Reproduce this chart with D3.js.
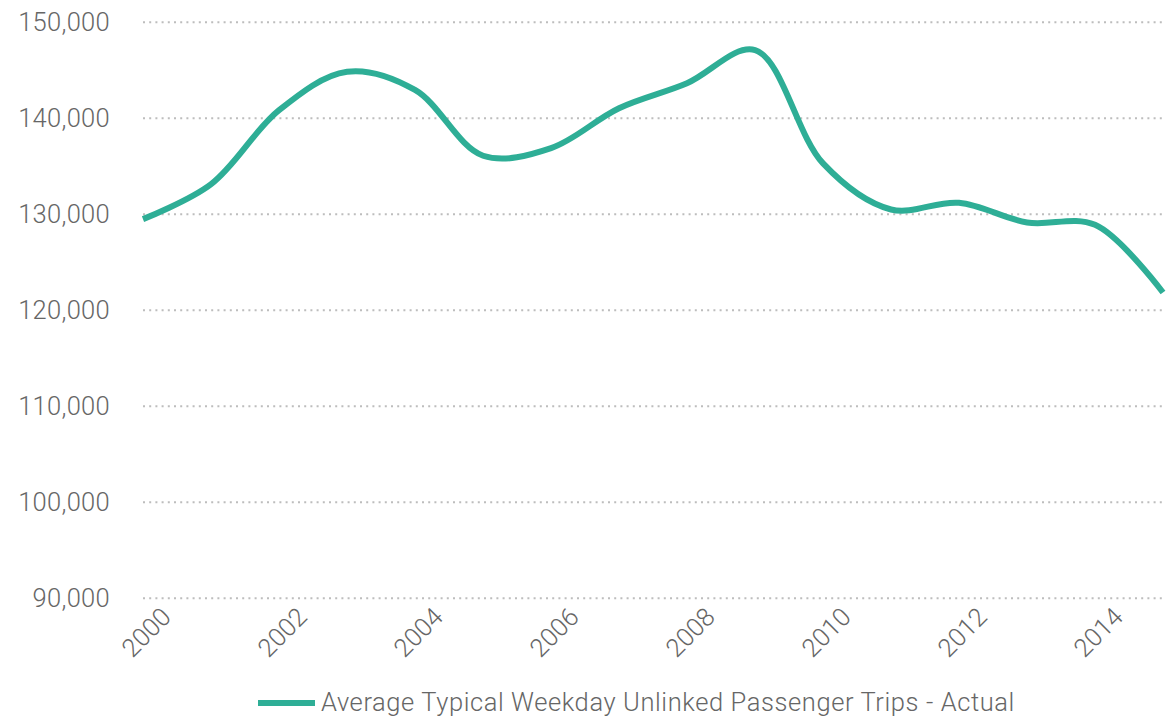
<!DOCTYPE html>
<html>
<head>
<meta charset="utf-8">
<script src="https://cdn.jsdelivr.net/npm/d3@7"></script>
<style>
  html, body { margin: 0; padding: 0; background: #ffffff; }
  svg { display: block; }
  text { font-family: "Helvetica Neue", Roboto, "Liberation Sans", sans-serif; font-weight: 300; fill: #666666; }
</style>
</head>
<body>
<svg id="chart" width="1166" height="720"></svg>
<script>
// Reporting periods (fiscal-year end months) and their ridership values
const periods = ["1999-09", "2000-09", "2001-09", "2002-09", "2003-09", "2004-09", "2005-09", "2006-09",
                 "2007-09", "2008-09", "2009-09", "2010-09", "2011-09", "2012-09", "2013-09", "2014-09"];
const weekdayTrips = [129500, 133150, 140850, 144850, 142950, 136100, 136900, 141050,
                      143650, 147100, 135300, 130500, 131200, 129150, 128900, 121850];
const yTicks = [90000, 100000, 110000, 120000, 130000, 140000, 150000];
const xTickYears = [2000, 2002, 2004, 2006, 2008, 2010, 2012, 2014];
const seriesName = "Average Typical Weekday Unlinked Passenger Trips - Actual";

const W = 1166, H = 720;
const plot = { left: 143, right: 1163, top: 22.3, bottom: 598.3 };
const lineColor = "#2eae96";

const svg = d3.select("#chart");
const parseMonth = d3.timeParse("%Y-%m");
const data = periods.map((p, i) => ({ date: parseMonth(p), value: weekdayTrips[i] }));

const x = d3.scaleTime()
  .domain(d3.extent(data, d => d.date))
  .range([plot.left, plot.right]);

const y = d3.scaleLinear()
  .domain([90000, 150000])
  .range([plot.bottom, plot.top]);

// Horizontal dotted gridlines
svg.append("g")
  .selectAll("line")
  .data(yTicks)
  .join("line")
  .attr("x1", plot.left)
  .attr("x2", plot.right)
  .attr("y1", d => y(d))
  .attr("y2", d => y(d))
  .attr("stroke", "#bdbdbd")
  .attr("stroke-width", 2)
  .attr("stroke-dasharray", "2,4.2");

// Y axis labels
const yAxis = d3.axisLeft(y)
  .tickValues(yTicks)
  .tickFormat(d3.format(","))
  .tickSize(0)
  .tickPadding(0);
const yG = svg.append("g")
  .attr("transform", `translate(${plot.left - 33},0)`)
  .call(yAxis);
yG.select(".domain").remove();
yG.selectAll("text")
  .attr("font-size", 25.5)
  .attr("font-family", null)
  .attr("letter-spacing", 0.3)
  .attr("fill", "#666666");

// X axis labels, rotated
const xAxis = d3.axisBottom(x)
  .tickValues(xTickYears.map(yr => new Date(yr, 0, 1)))
  .tickFormat(d3.timeFormat("%Y"))
  .tickSize(0)
  .tickPadding(0);
const xG = svg.append("g")
  .attr("transform", `translate(0,${plot.bottom + 14})`)
  .call(xAxis);
xG.select(".domain").remove();
xG.selectAll("text")
  .attr("font-size", 25.5)
  .attr("font-family", null)
  .attr("fill", "#666666")
  .attr("text-anchor", "end")
  .attr("y", 0)
  .attr("dy", "0.35em")
  .attr("transform", "rotate(-45)");

// Ridership line
const line = d3.line()
  .x(d => x(d.date))
  .y(d => y(d.value))
  .curve(d3.curveCatmullRom.alpha(0.5));

svg.append("path")
  .datum(data)
  .attr("fill", "none")
  .attr("stroke", lineColor)
  .attr("stroke-width", 6)
  .attr("stroke-linejoin", "round")
  .attr("d", line);

// Legend
const legend = svg.append("g").attr("transform", "translate(258,703)");
legend.append("line")
  .attr("x1", 0).attr("x2", 57)
  .attr("y1", 0).attr("y2", 0)
  .attr("stroke", lineColor)
  .attr("stroke-width", 6);
legend.append("text")
  .attr("x", 63)
  .attr("y", 7.5)
  .attr("font-size", 25.5)
  .attr("letter-spacing", 0.6)
  .text(seriesName);
</script>
</body>
</html>
